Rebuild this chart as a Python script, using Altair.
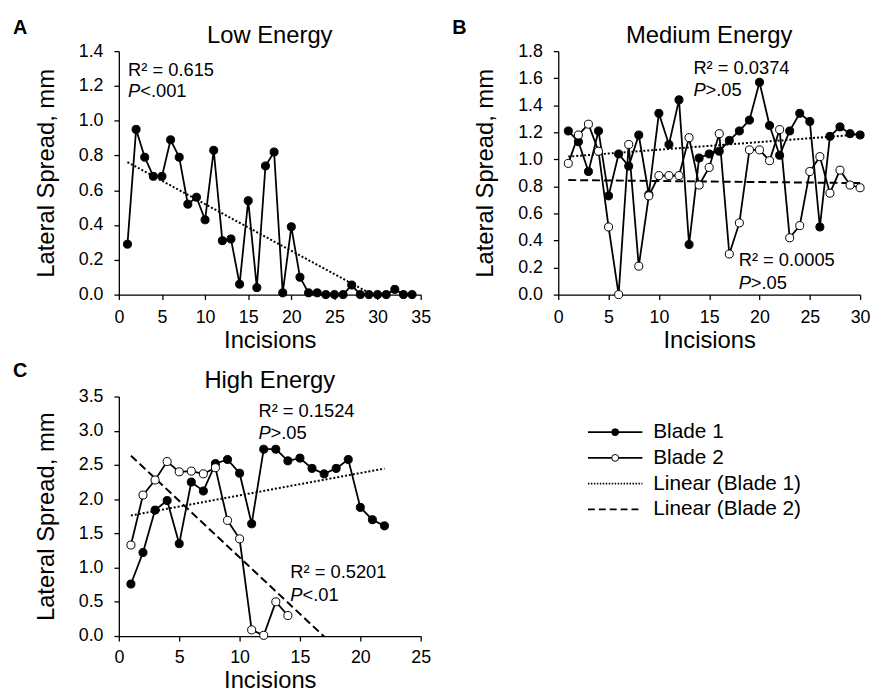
import altair as alt
import pandas as pd

FONT = "Liberation Sans"
W, H = 305, 246

# ---------------- data ----------------
SERIES = ["Blade 1", "Blade 2"]
LEGEND_LABELS = ["Blade 1", "Blade 2", "Linear (Blade 1)", "Linear (Blade 2)"]

# Panel A - Low Energy
a_x = list(range(1, 35))
a_blade1 = [0.29, 0.95, 0.79, 0.68, 0.68, 0.89, 0.79, 0.52, 0.56, 0.43,
            0.83, 0.31, 0.32, 0.06, 0.54, 0.04, 0.74, 0.82, 0.01, 0.39,
            0.10, 0.01, 0.01, 0.00, 0.00, 0.00, 0.055, 0.00, 0.00, 0.00,
            0.00, 0.03, 0.00, 0.00]

# Panel B - Medium Energy
b_x = list(range(1, 31))
b_blade1 = [1.21, 1.13, 0.91, 1.21, 0.73, 1.04, 0.95, 1.18, 0.74, 1.34,
            1.11, 1.44, 0.37, 1.01, 1.04, 1.06, 1.14, 1.21, 1.29, 1.57,
            1.25, 1.03, 1.21, 1.34, 1.28, 0.50, 1.17, 1.24, 1.19, 1.18]
b_blade2 = [0.97, 1.18, 1.26, 1.06, 0.50, 0.00, 1.11, 0.21, 0.73, 0.88,
            0.88, 0.88, 1.16, 0.81, 0.94, 1.19, 0.30, 0.53, 1.07, 1.07,
            0.99, 1.22, 0.42, 0.51, 0.91, 1.02, 0.75, 0.92, 0.81, 0.79]

# Panel C - High Energy
c_x1 = list(range(1, 23))
c_blade1 = [0.76, 1.22, 1.84, 1.98, 1.35, 2.25, 2.12, 2.52, 2.58, 2.38,
            1.64, 2.73, 2.73, 2.56, 2.60, 2.45, 2.37, 2.45, 2.58, 1.88,
            1.70, 1.61]
c_x2 = list(range(1, 15))
c_blade2 = [1.33, 2.06, 2.28, 2.55, 2.40, 2.41, 2.37, 2.46, 1.69, 1.42,
            0.09, 0.01, 0.50, 0.30]

# axis ticks
a_xticks = [0, 5, 10, 15, 20, 25, 30, 35]
a_yticks = [0.0, 0.2, 0.4, 0.6, 0.8, 1.0, 1.2, 1.4]
b_xticks = [0, 5, 10, 15, 20, 25, 30]
b_yticks = [0.0, 0.2, 0.4, 0.6, 0.8, 1.0, 1.2, 1.4, 1.6, 1.8]
c_xticks = [0, 5, 10, 15, 20, 25]
c_yticks = [0.0, 0.5, 1.0, 1.5, 2.0, 2.5, 3.0, 3.5]

# annotations (R^2 line and P line)
a_r2_text = ["R\u00b2 = 0.615"]
a_r2_x = [1.07]
a_r2_y = [1.29]
a_p_text = ["<.001"]
a_p_y = [1.17]

b_r2_text = ["R\u00b2 = 0.0374", "R\u00b2 = 0.0005"]
b_r2_x = [13.43, 17.93]
b_r2_y = [1.677, 0.256]
b_p_text = [">.05", ">.05"]
b_p_y = [1.514, 0.085]

c_r2_text = ["R\u00b2 = 0.1524", "R\u00b2 = 0.5201"]
c_r2_x = [11.56, 14.2]
c_r2_y = [3.286, 0.935]
c_p_text = [">.05", "<.01"]
c_p_y = [2.968, 0.603]


def series_df(xs, ys, name):
    return pd.DataFrame({"x": xs, "y": ys, "series": name})


def panel(df, trends, xdom, xticks, ydom, yticks, title, letter,
          r2_text, r2_x, r2_y, p_text, p_y, letter_y=-17, title_y=-8,
          height=H, x_label_pad=9, x_title_pad=2):
    x = alt.X("x:Q", scale=alt.Scale(domain=xdom, nice=False, zero=False),
              axis=alt.Axis(values=xticks, title="Incisions",
                            labelPadding=x_label_pad, titlePadding=x_title_pad))
    y = alt.Y("y:Q", scale=alt.Scale(domain=ydom, nice=False, zero=False),
              axis=alt.Axis(values=yticks, format=".1f", title="Lateral Spread, mm"))
    base = alt.Chart(df)
    layers = [
        base.mark_line(color="black", strokeWidth=1.8).encode(
            x=x, y=y, detail="series:N", order="x:Q")
    ]
    for name, dash, extent in trends:
        layers.append(
            base.transform_filter(alt.datum.series == name)
            .transform_regression("x", "y", extent=extent)
            .mark_line(color="black", strokeWidth=2, strokeDash=dash, clip=True)
            .encode(x=x, y=y)
        )
    layers.append(
        base.mark_circle(size=66, stroke="black", strokeWidth=1, opacity=1).encode(
            x=x, y=y,
            fill=alt.Fill("series:N", scale=alt.Scale(domain=SERIES, range=["black", "white"]),
                          legend=None))
    )
    r2_df = pd.DataFrame({"x": r2_x, "y": r2_y, "t": r2_text})
    p_df = pd.DataFrame({"x": r2_x, "y": p_y, "t": p_text, "p": ["P"] * len(p_text)})
    txt = dict(align="left", baseline="middle", fontSize=18.5, font=FONT, color="black")
    layers.append(alt.Chart(r2_df).mark_text(**txt).encode(x=x, y=y, text="t:N"))
    layers.append(alt.Chart(p_df).mark_text(fontStyle="italic", **txt).encode(x=x, y=y, text="p:N"))
    layers.append(alt.Chart(p_df).mark_text(dx=12.3, **txt).encode(x=x, y=y, text="t:N"))
    layers.append(
        alt.Chart(pd.DataFrame({"t": [title]})).mark_text(
            align="center", baseline="alphabetic", fontSize=24, font=FONT, color="black"
        ).encode(text="t:N", x=alt.value(W / 2), y=alt.value(title_y))
    )
    layers.append(
        alt.Chart(pd.DataFrame({"t": [letter]})).mark_text(
            align="left", baseline="alphabetic", fontSize=20, fontWeight="bold",
            font=FONT, color="black"
        ).encode(text="t:N", x=alt.value(-107), y=alt.value(letter_y))
    )
    return alt.layer(*layers).properties(width=W, height=height)


dfA = series_df(a_x, a_blade1, "Blade 1")
dfB = pd.concat([series_df(b_x, b_blade1, "Blade 1"), series_df(b_x, b_blade2, "Blade 2")])
dfC = pd.concat([series_df(c_x1, c_blade1, "Blade 1"), series_df(c_x2, c_blade2, "Blade 2")])

pA = panel(dfA, [("Blade 1", [2, 2], [1, 34])], [0, 35], a_xticks, [0, 1.4], a_yticks,
           "Low Energy", "A", a_r2_text, a_r2_x, a_r2_y, a_p_text, a_p_y)
pB = panel(dfB, [("Blade 1", [2, 2], [1, 30]), ("Blade 2", [8, 4], [1, 30])],
           [0, 30], b_xticks, [0, 1.8], b_yticks,
           "Medium Energy", "B", b_r2_text, b_r2_x, b_r2_y, b_p_text, b_p_y)
pC = panel(dfC, [("Blade 1", [2, 2], [1, 22]), ("Blade 2", [8, 4], [1, 22])],
           [0, 25], c_xticks, [0, 3.5], c_yticks,
           "High Energy", "C", c_r2_text, c_r2_x, c_r2_y, c_p_text, c_p_y,
           letter_y=-20, title_y=-9, height=242, x_label_pad=8, x_title_pad=2)

# ---------------- legend (built from marks) ----------------
leg_df = pd.DataFrame({"label": LEGEND_LABELS})
ly = alt.Y("label:N", scale=alt.Scale(type="point", domain=LEGEND_LABELS, padding=1), axis=None)
leg_rule = alt.Chart(leg_df).mark_rule(color="black", strokeWidth=1.6, yOffset=10).encode(
    y=ly, x=alt.value(0), x2=alt.value(55),
    strokeDash=alt.StrokeDash("label:N", scale=alt.Scale(
        domain=LEGEND_LABELS, range=[[1, 0], [1, 0], [1.5, 1.5], [7, 4]]), legend=None))
leg_pts = alt.Chart(leg_df).transform_filter(
    alt.FieldOneOfPredicate(field="label", oneOf=SERIES)
).mark_circle(size=48, stroke="black", strokeWidth=1, opacity=1, yOffset=10).encode(
    y=ly, x=alt.value(27.5),
    fill=alt.Fill("label:N", scale=alt.Scale(domain=SERIES, range=["black", "white"]), legend=None))
leg_txt = alt.Chart(leg_df).mark_text(
    align="left", baseline="middle", fontSize=21, font=FONT, color="black", yOffset=10
).encode(y=ly, x=alt.value(66), text="label:N")
legend = alt.layer(leg_rule, leg_pts, leg_txt).properties(width=230, height=130)

chart = alt.vconcat(
    alt.hconcat(pA, pB, spacing=21),
    alt.hconcat(pC, legend, spacing=157),
    spacing=9,
).properties(
    padding={"left": 5, "top": 7, "right": 0, "bottom": 0}
).configure_view(stroke=None).configure_axis(
    domainColor="black", domainWidth=1.3, tickColor="black", tickWidth=1.3, tickSize=5,
    labelFont=FONT, labelFontSize=18, labelColor="black",
    titleFont=FONT, titleFontSize=24, titleFontWeight="normal", titleColor="black",
    grid=False,
).configure_axisX(
    labelFlush=False, labelOverlap=False
).configure_axisY(
    labelPadding=11, titlePadding=20, labelOverlap=False
)

chart.save("out.html", embed_options={"renderer": "svg", "actions": False})
